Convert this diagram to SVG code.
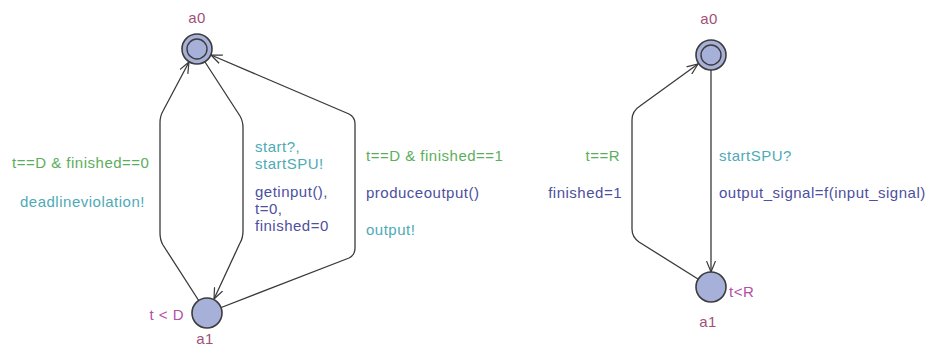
<svg xmlns="http://www.w3.org/2000/svg" width="940" height="348" viewBox="0 0 940 348">
<defs>
<marker id="arr" viewBox="0 0 12 10" refX="11" refY="5" markerWidth="12" markerHeight="10" markerUnits="userSpaceOnUse" orient="auto">
<path d="M0,0.5 L11,5 L0,9.5" fill="none" stroke="#3a3a3a" stroke-width="1.2"/>
</marker>
</defs>
<style>
text{font-family:"Liberation Sans",Arial,sans-serif;font-size:15px;letter-spacing:0.5px}
.loc{fill:#a7b0d8;stroke:#3c3c3c;stroke-width:1.6}
.inner{fill:#a7b0d8;stroke:#3c3c3c;stroke-width:1.4}
.edge{fill:none;stroke:#3a3a3a;stroke-width:1.3;marker-end:url(#arr)}
.name{fill:#a0507a}
.inv{fill:#b050a8}
.guard{fill:#5cae5c}
.sync{fill:#4eaab6}
.assign{fill:#4d4fa0}
</style>
<rect width="940" height="348" fill="#ffffff"/>
<g id="connectors">
<path class="edge" d="M199,301 L163,245 Q160,240 160,233 L160,123 Q160,116 163,111 L189,62"/>
<path class="edge" d="M205,62 L240,116 Q243,121 243,128 L243,231 Q243,238 240,243 L214,299"/>
<path class="edge" d="M220,308 L349,258 Q355,255 355,248 L355,124 Q355,117 349,114 L211,55"/>
<path class="edge" d="M711,70 L711,272"/>
<path class="edge" d="M698,279 L639,242 Q632,237 632,229 L632,120 Q632,111 640,106 L698,64"/>
</g>
<g id="left-a0">
<circle class="loc" cx="197" cy="49" r="15"/>
<circle class="inner" cx="197" cy="49" r="10"/>
<text class="name" x="197" y="23" text-anchor="middle">a0</text>
</g>
<g id="left-a1">
<circle class="loc" cx="207" cy="313" r="15"/>
<text class="inv" x="184" y="320" text-anchor="end">t &lt; D</text>
<text class="name" x="205" y="344" text-anchor="middle">a1</text>
</g>
<g id="right-a0">
<circle class="loc" cx="711" cy="55" r="15"/>
<circle class="inner" cx="711" cy="55" r="10"/>
<text class="name" x="709" y="24" text-anchor="middle">a0</text>
</g>
<g id="right-a1">
<circle class="loc" cx="711" cy="287" r="15"/>
<text class="inv" x="729" y="297">t&lt;R</text>
<text class="name" x="708" y="327" text-anchor="middle">a1</text>
</g>
<g id="labels">
<text class="guard" x="12" y="168">t==D &amp; finished==0</text>
<text class="sync" x="20" y="207">deadlineviolation!</text>
<text class="sync" x="255" y="152">start?,</text>
<text class="sync" x="255" y="169">startSPU!</text>
<text class="assign" x="255" y="197">getinput(),</text>
<text class="assign" x="255" y="214">t=0,</text>
<text class="assign" x="255" y="231">finished=0</text>
<text class="guard" x="366" y="161">t==D &amp; finished==1</text>
<text class="assign" x="366" y="198">produceoutput()</text>
<text class="sync" x="366" y="235">output!</text>
<text class="guard" x="620" y="161" text-anchor="end">t==R</text>
<text class="assign" x="622" y="198" text-anchor="end">finished=1</text>
<text class="sync" x="719" y="161">startSPU?</text>
<text class="assign" x="719" y="198">output_signal=f(input_signal)</text>
</g>
</svg>
